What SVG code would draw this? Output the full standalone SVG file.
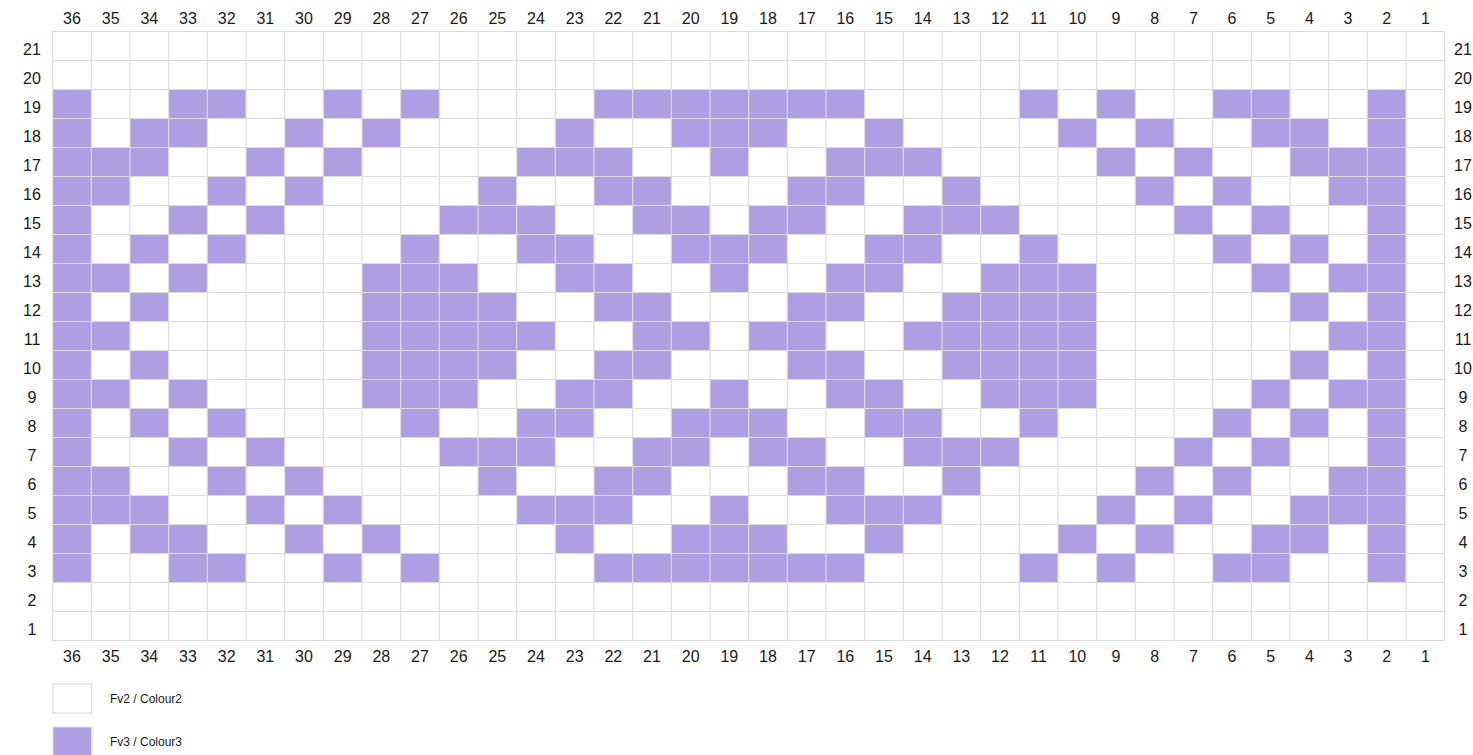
<svg xmlns="http://www.w3.org/2000/svg" xmlns:xlink="http://www.w3.org/1999/xlink" width="1473" height="755" viewBox="0 0 1473 755">
<style>
.p{fill:#ae9fe3}
.lbl{font-family:"Liberation Sans",Arial,sans-serif;font-size:16px;fill:#1a1a1a;text-anchor:middle}
.leg{font-family:"Liberation Sans",Arial,sans-serif;font-size:12px;fill:#1a1a1a}
.grid{fill:none;stroke:#dcdcdc;stroke-width:1.2}
.box{stroke:#dcdcdc;stroke-width:1.2}
</style>
<defs>
<rect id="p" class="p" width="38.67" height="29"/>
<g id="r19"><use href="#p" x="52.67"/><use href="#p" x="168.67"/><use href="#p" x="207.33"/><use href="#p" x="323.33"/><use href="#p" x="400.67"/><use href="#p" x="594"/><use href="#p" x="632.67"/><use href="#p" x="671.33"/><use href="#p" x="710"/><use href="#p" x="748.67"/><use href="#p" x="787.33"/><use href="#p" x="826"/><use href="#p" x="1019.33"/><use href="#p" x="1096.67"/><use href="#p" x="1212.67"/><use href="#p" x="1251.33"/><use href="#p" x="1367.33"/></g>
<g id="r18"><use href="#p" x="52.67"/><use href="#p" x="130"/><use href="#p" x="168.67"/><use href="#p" x="284.67"/><use href="#p" x="362"/><use href="#p" x="555.33"/><use href="#p" x="671.33"/><use href="#p" x="710"/><use href="#p" x="748.67"/><use href="#p" x="864.67"/><use href="#p" x="1058"/><use href="#p" x="1135.33"/><use href="#p" x="1251.33"/><use href="#p" x="1290"/><use href="#p" x="1367.33"/></g>
<g id="r17"><use href="#p" x="52.67"/><use href="#p" x="91.33"/><use href="#p" x="130"/><use href="#p" x="246"/><use href="#p" x="323.33"/><use href="#p" x="516.67"/><use href="#p" x="555.33"/><use href="#p" x="594"/><use href="#p" x="710"/><use href="#p" x="826"/><use href="#p" x="864.67"/><use href="#p" x="903.33"/><use href="#p" x="1096.67"/><use href="#p" x="1174"/><use href="#p" x="1290"/><use href="#p" x="1328.67"/><use href="#p" x="1367.33"/></g>
<g id="r16"><use href="#p" x="52.67"/><use href="#p" x="91.33"/><use href="#p" x="207.33"/><use href="#p" x="284.67"/><use href="#p" x="478"/><use href="#p" x="594"/><use href="#p" x="632.67"/><use href="#p" x="787.33"/><use href="#p" x="826"/><use href="#p" x="942"/><use href="#p" x="1135.33"/><use href="#p" x="1212.67"/><use href="#p" x="1328.67"/><use href="#p" x="1367.33"/></g>
<g id="r15"><use href="#p" x="52.67"/><use href="#p" x="168.67"/><use href="#p" x="246"/><use href="#p" x="439.33"/><use href="#p" x="478"/><use href="#p" x="516.67"/><use href="#p" x="632.67"/><use href="#p" x="671.33"/><use href="#p" x="748.67"/><use href="#p" x="787.33"/><use href="#p" x="903.33"/><use href="#p" x="942"/><use href="#p" x="980.67"/><use href="#p" x="1174"/><use href="#p" x="1251.33"/><use href="#p" x="1367.33"/></g>
<g id="r14"><use href="#p" x="52.67"/><use href="#p" x="130"/><use href="#p" x="207.33"/><use href="#p" x="400.67"/><use href="#p" x="516.67"/><use href="#p" x="555.33"/><use href="#p" x="671.33"/><use href="#p" x="710"/><use href="#p" x="748.67"/><use href="#p" x="864.67"/><use href="#p" x="903.33"/><use href="#p" x="1019.33"/><use href="#p" x="1212.67"/><use href="#p" x="1290"/><use href="#p" x="1367.33"/></g>
<g id="r13"><use href="#p" x="52.67"/><use href="#p" x="91.33"/><use href="#p" x="168.67"/><use href="#p" x="362"/><use href="#p" x="400.67"/><use href="#p" x="439.33"/><use href="#p" x="555.33"/><use href="#p" x="594"/><use href="#p" x="710"/><use href="#p" x="826"/><use href="#p" x="864.67"/><use href="#p" x="980.67"/><use href="#p" x="1019.33"/><use href="#p" x="1058"/><use href="#p" x="1251.33"/><use href="#p" x="1328.67"/><use href="#p" x="1367.33"/></g>
<g id="r12"><use href="#p" x="52.67"/><use href="#p" x="130"/><use href="#p" x="362"/><use href="#p" x="400.67"/><use href="#p" x="439.33"/><use href="#p" x="478"/><use href="#p" x="594"/><use href="#p" x="632.67"/><use href="#p" x="787.33"/><use href="#p" x="826"/><use href="#p" x="942"/><use href="#p" x="980.67"/><use href="#p" x="1019.33"/><use href="#p" x="1058"/><use href="#p" x="1290"/><use href="#p" x="1367.33"/></g>
<g id="r11"><use href="#p" x="52.67"/><use href="#p" x="91.33"/><use href="#p" x="362"/><use href="#p" x="400.67"/><use href="#p" x="439.33"/><use href="#p" x="478"/><use href="#p" x="516.67"/><use href="#p" x="632.67"/><use href="#p" x="671.33"/><use href="#p" x="748.67"/><use href="#p" x="787.33"/><use href="#p" x="903.33"/><use href="#p" x="942"/><use href="#p" x="980.67"/><use href="#p" x="1019.33"/><use href="#p" x="1058"/><use href="#p" x="1328.67"/><use href="#p" x="1367.33"/></g>
<g id="cols" class="lbl"><text x="72">36</text><text x="110.67">35</text><text x="149.33">34</text><text x="188">33</text><text x="226.67">32</text><text x="265.33">31</text><text x="304">30</text><text x="342.67">29</text><text x="381.33">28</text><text x="420">27</text><text x="458.67">26</text><text x="497.33">25</text><text x="536">24</text><text x="574.67">23</text><text x="613.33">22</text><text x="652">21</text><text x="690.67">20</text><text x="729.33">19</text><text x="768">18</text><text x="806.67">17</text><text x="845.33">16</text><text x="884">15</text><text x="922.67">14</text><text x="961.33">13</text><text x="1000">12</text><text x="1038.67">11</text><text x="1077.33">10</text><text x="1116">9</text><text x="1154.67">8</text><text x="1193.33">7</text><text x="1232">6</text><text x="1270.67">5</text><text x="1309.33">4</text><text x="1348">3</text><text x="1386.67">2</text><text x="1425.33">1</text></g>
<g id="rows" class="lbl"><text y="54.5">21</text><text y="83.5">20</text><text y="112.5">19</text><text y="141.5">18</text><text y="170.5">17</text><text y="199.5">16</text><text y="228.5">15</text><text y="257.5">14</text><text y="286.5">13</text><text y="315.5">12</text><text y="344.5">11</text><text y="373.5">10</text><text y="402.5">9</text><text y="431.5">8</text><text y="460.5">7</text><text y="489.5">6</text><text y="518.5">5</text><text y="547.5">4</text><text y="576.5">3</text><text y="605.5">2</text><text y="634.5">1</text></g>
</defs>
<rect width="1473" height="755" fill="#ffffff"/>
<g id="chart">
<use href="#r19" y="89.5"/>
<use href="#r18" y="118.5"/>
<use href="#r17" y="147.5"/>
<use href="#r16" y="176.5"/>
<use href="#r15" y="205.5"/>
<use href="#r14" y="234.5"/>
<use href="#r13" y="263.5"/>
<use href="#r12" y="292.5"/>
<use href="#r11" y="321.5"/>
<use href="#r12" y="350.5"/>
<use href="#r13" y="379.5"/>
<use href="#r14" y="408.5"/>
<use href="#r15" y="437.5"/>
<use href="#r16" y="466.5"/>
<use href="#r17" y="495.5"/>
<use href="#r18" y="524.5"/>
<use href="#r19" y="553.5"/>
<path class="grid" d="M52.67 31.5V640.5M91.33 31.5V640.5M130 31.5V640.5M168.67 31.5V640.5M207.33 31.5V640.5M246 31.5V640.5M284.67 31.5V640.5M323.33 31.5V640.5M362 31.5V640.5M400.67 31.5V640.5M439.33 31.5V640.5M478 31.5V640.5M516.67 31.5V640.5M555.33 31.5V640.5M594 31.5V640.5M632.67 31.5V640.5M671.33 31.5V640.5M710 31.5V640.5M748.67 31.5V640.5M787.33 31.5V640.5M826 31.5V640.5M864.67 31.5V640.5M903.33 31.5V640.5M942 31.5V640.5M980.67 31.5V640.5M1019.33 31.5V640.5M1058 31.5V640.5M1096.67 31.5V640.5M1135.33 31.5V640.5M1174 31.5V640.5M1212.67 31.5V640.5M1251.33 31.5V640.5M1290 31.5V640.5M1328.67 31.5V640.5M1367.33 31.5V640.5M1406 31.5V640.5M1444.67 31.5V640.5M52.67 31.5H1444.67M52.67 60.5H1444.67M52.67 89.5H1444.67M52.67 118.5H1444.67M52.67 147.5H1444.67M52.67 176.5H1444.67M52.67 205.5H1444.67M52.67 234.5H1444.67M52.67 263.5H1444.67M52.67 292.5H1444.67M52.67 321.5H1444.67M52.67 350.5H1444.67M52.67 379.5H1444.67M52.67 408.5H1444.67M52.67 437.5H1444.67M52.67 466.5H1444.67M52.67 495.5H1444.67M52.67 524.5H1444.67M52.67 553.5H1444.67M52.67 582.5H1444.67M52.67 611.5H1444.67M52.67 640.5H1444.67"/>
</g>
<g id="labels">
<use href="#cols" y="23.5"/>
<use href="#cols" y="662"/>
<use href="#rows" x="32"/>
<use href="#rows" x="1463"/>
</g>
<g id="legend">
<rect class="box" x="53" y="684" width="38.67" height="29" fill="#ffffff"/>
<text class="leg" x="110" y="702.5">Fv2 / Colour2</text>
<rect class="box p" x="53" y="727" width="38.67" height="29"/>
<text class="leg" x="110" y="745.5">Fv3 / Colour3</text>
</g>
</svg>
